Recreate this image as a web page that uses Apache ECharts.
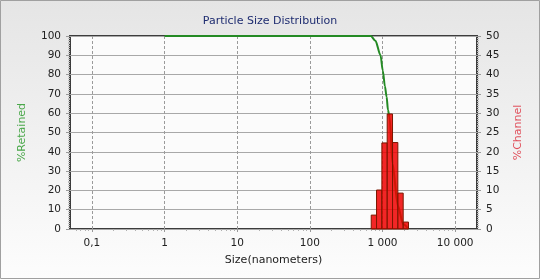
<!DOCTYPE html>
<html>
<head>
<meta charset="utf-8">
<script src="https://cdn.jsdelivr.net/npm/echarts@6/dist/echarts.min.js"></script>
<style>
  html, body { margin: 0; padding: 0; }
  #chart { width: 540px; height: 280px; }
</style>
</head>
<body>
<div id="chart"></div>
<script>
// x axis ticks (nanometers) and their labels
const tickSizes = [0.1, 1, 10, 100, 1000, 10000]
const tickLabels = ['0,1', '1', '10', '100', '1 000', '10 000']
const minorMultipliers = [2, 3, 4, 5, 6, 7, 8, 9]
const decades = [0.01, 0.1, 1, 10, 100, 1000, 10000]

// histogram classes (%Channel)
const binEdges = [700, 828, 981, 1161, 1375, 1628, 1928, 2282]
const channel = [3.6, 10.1, 22.3, 29.8, 22.4, 9.3, 1.8]

// cumulative curve (%Retained)
const retainedSizes = [1, 690, 800, 940, 1010, 1080, 1140, 1190, 1250, 1375, 1628, 1928, 2282]
const retained = [100, 100, 97.5, 90, 82, 74, 68.5, 61.7, 58, 34, 12, 2.5, 0]

const xMin = Math.log10(0.05)
const xMax = Math.log10(20000)

const majorTicks = tickSizes.map(s => Math.log10(s))
const minorTicks = []
decades.forEach(d => {
  minorMultipliers.forEach(m => {
    const v = Math.log10(d * m)
    if (v > xMin && v < xMax) minorTicks.push(v)
  })
})

const labelFor = v => {
  const i = majorTicks.findIndex(t => Math.abs(t - v) < 1e-6)
  return i >= 0 ? tickLabels[i] : ''
}

const barData = channel.map((v, i) => [Math.log10(binEdges[i]), Math.log10(binEdges[i + 1]), v])
const lineData = retainedSizes.map((s, i) => [Math.log10(s), retained[i]])

const font = 'DejaVu Sans'
const chart = echarts.init(document.getElementById('chart'))

const option = {
  animation: false,
  backgroundColor: new echarts.graphic.LinearGradient(0, 0, 0, 1, [
    { offset: 0, color: '#e5e5e5' },
    { offset: 1, color: '#fdfdfd' }
  ]),
  textStyle: { fontFamily: font },
  title: {
    text: 'Particle Size Distribution',
    left: 'center',
    top: 11,
    textStyle: { fontSize: 11, fontWeight: 'normal', color: '#1e2c70', fontFamily: font }
  },
  graphic: [{
    type: 'rect',
    shape: { x: 0.5, y: 0.5, width: 539, height: 278 },
    style: { fill: 'none', stroke: '#a0a0a0', lineWidth: 1 },
    silent: true
  }],
  grid: {
    left: 70,
    right: 63,
    top: 36,
    bottom: 51,
    show: true,
    backgroundColor: '#fbfbfb',
    borderColor: '#3c3c3c',
    borderWidth: 2
  },
  xAxis: [
    {
      type: 'value',
      min: xMin,
      max: xMax,
      name: 'Size(nanometers)',
      nameLocation: 'middle',
      nameGap: 26,
      nameTextStyle: { fontSize: 11, color: '#222', fontFamily: font },
      axisLine: { show: false, onZero: false },
      axisTick: { show: true, customValues: majorTicks, length: 3, lineStyle: { color: '#999' } },
      axisLabel: {
        customValues: majorTicks,
        formatter: labelFor,
        margin: 9,
        fontSize: 10.5,
        color: '#222'
      },
      splitLine: { show: true, lineStyle: { color: '#9a9a9a', type: [3, 2], width: 1 } }
    },
    {
      type: 'value',
      min: xMin,
      max: xMax,
      position: 'bottom',
      axisLine: { show: false, onZero: false },
      axisLabel: { show: false },
      splitLine: { show: false },
      axisTick: { show: true, customValues: minorTicks, length: 2, lineStyle: { color: '#b0b0b0' } }
    }
  ],
  yAxis: [
    {
      type: 'value',
      min: 0,
      max: 100,
      interval: 10,
      name: '%Retained',
      nameLocation: 'middle',
      nameRotate: 90,
      nameGap: 42,
      nameTextStyle: { fontSize: 11, color: '#4aa84a', fontFamily: font },
      axisLine: { show: false, onZero: false },
      axisTick: { show: true, length: 4, lineStyle: { color: '#999' } },
      minorTick: { show: true, splitNumber: 10, length: 2, lineStyle: { color: '#bbb' } },
      axisLabel: { margin: 9, fontSize: 10.5, color: '#222' },
      splitLine: { show: true, lineStyle: { color: '#a8a8a8', width: 1 } }
    },
    {
      type: 'value',
      min: 0,
      max: 50,
      interval: 5,
      position: 'right',
      name: '%Channel',
      nameLocation: 'middle',
      nameRotate: 90,
      nameGap: 36,
      nameTextStyle: { fontSize: 11, color: '#e0505c', fontFamily: font },
      axisLine: { show: false, onZero: false },
      axisTick: { show: true, length: 4, lineStyle: { color: '#999' } },
      minorTick: { show: true, splitNumber: 10, length: 2, lineStyle: { color: '#bbb' } },
      axisLabel: { margin: 9, fontSize: 10.5, color: '#222' },
      splitLine: { show: false }
    }
  ],
  series: [
    {
      name: '%Retained',
      type: 'line',
      xAxisIndex: 0,
      yAxisIndex: 0,
      data: lineData,
      smooth: 0.3,
      smoothMonotone: 'x',
      symbol: 'none',
      z: 2,
      lineStyle: { color: '#248a24', width: 2 }
    },
    {
      name: '%Channel',
      type: 'custom',
      xAxisIndex: 0,
      yAxisIndex: 1,
      data: barData,
      encode: { x: [0, 1], y: 2 },
      z: 3,
      renderItem: (params, api) => {
        const p0 = api.coord([api.value(0), 0])
        const p1 = api.coord([api.value(1), api.value(2)])
        return {
          type: 'rect',
          shape: { x: p0[0], y: p1[1], width: p1[0] - p0[0], height: p0[1] - p1[1] },
          style: { fill: 'rgba(240, 0, 0, 0.85)', stroke: '#7a1800', lineWidth: 1 }
        }
      }
    }
  ]
}

chart.setOption(option)
</script>
</body>
</html>
